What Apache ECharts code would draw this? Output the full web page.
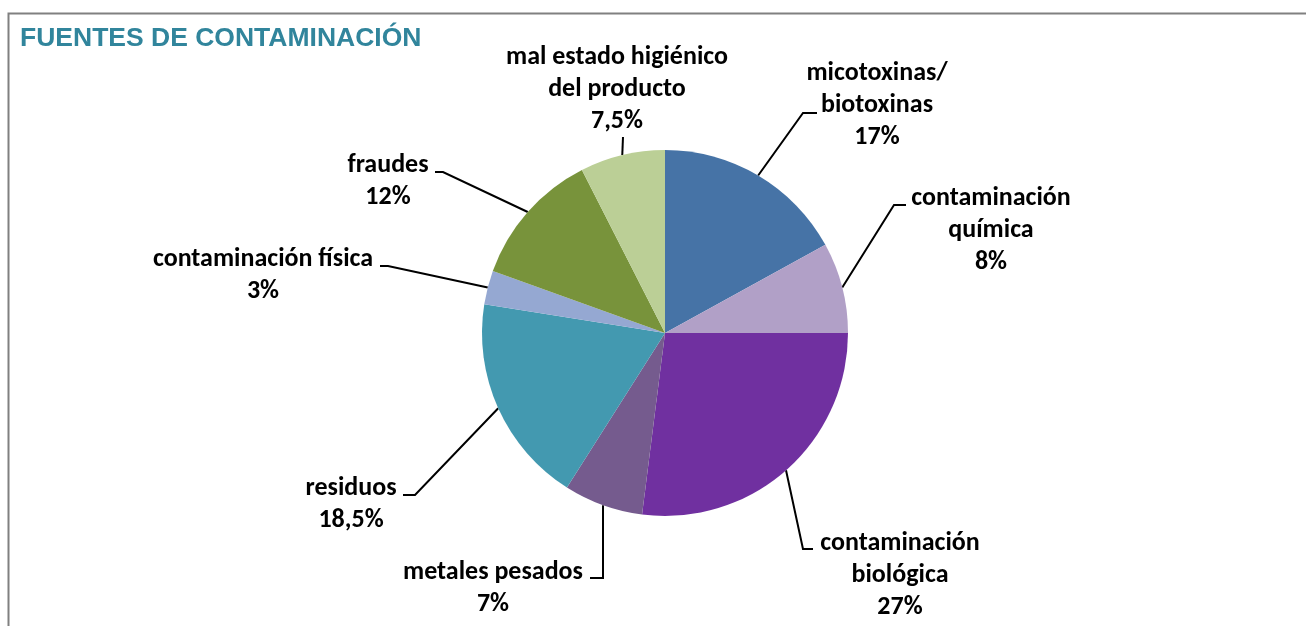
<!DOCTYPE html>
<html lang="es">
<head>
<meta charset="UTF-8">
<title>Fuentes de contaminación</title>
<script src="https://cdn.jsdelivr.net/npm/echarts@6/dist/echarts.min.js"></script>
<style>
  html, body { margin: 0; padding: 0; background: #fff; }
  #chart { width: 1306px; height: 626px; }
</style>
</head>
<body>
<div id="chart"></div>
<script>
  // data, clockwise from 12 o'clock
  var categories = [
    'micotoxinas/\nbiotoxinas',
    'contaminación\nquímica',
    'contaminación\nbiológica',
    'metales pesados',
    'residuos',
    'contaminación física',
    'fraudes',
    'mal estado higiénico\ndel producto'
  ]
  var values = [17, 8, 27, 7, 18.5, 3, 12, 7.5]
  var colors = ['#4673A6', '#B1A0C7', '#7030A0', '#755B8E', '#4399B0', '#95A8D2', '#78933B', '#BBCF96']

  // where each label sits (text block centre) and its leader bend / end points
  var labelPos = [
    { c: [877, 105], pts: [[803, 113], [817, 113]] },
    { c: [991, 230], pts: [[894, 205], [906, 205]] },
    { c: [900, 575], pts: [[803, 549], [813, 549]] },
    { c: [493, 588], pts: [[603, 578], [590, 578]] },
    { c: [351, 504], pts: [[415, 495], [403, 495]] },
    { c: [263, 275], pts: [[388, 266], [380, 266]] },
    { c: [388, 181], pts: [[443, 172], [435, 172]] },
    { c: [617, 89],  pts: [[623, 137], [623, 137]] }
  ]

  var cx = 665, cy = 333, R = 183
  var total = values.reduce(function (a, b) { return a + b }, 0)

  function edgePoint(i) {
    var before = 0
    for (var k = 0; k < i; k++) before += values[k]
    var mid = (before + values[i] / 2) / total * Math.PI * 2
    return [cx + R * Math.sin(mid), cy - R * Math.cos(mid)]
  }

  var chart = echarts.init(document.getElementById('chart'), null, { renderer: 'canvas' })

  var option = {
    backgroundColor: '#fff',
    animation: false,
    title: {
      text: 'FUENTES DE CONTAMINACIÓN',
      left: 20,
      top: 25,
      padding: 0,
      textStyle: {
        fontFamily: 'Liberation Sans, Arial, sans-serif',
        fontWeight: 'bold',
        fontSize: 26.5,
        color: '#31859C'
      }
    },
    graphic: [{
      type: 'rect',
      shape: { x: 8.5, y: 13.5, width: 1320, height: 700 },
      style: { fill: 'none', stroke: '#808080', lineWidth: 2 },
      silent: true
    }],
    series: [{
      type: 'pie',
      center: [cx, cy],
      radius: R,
      startAngle: 90,
      clockwise: true,
      avoidLabelOverlap: false,
      data: categories.map(function (n, i) {
        return { name: n, value: values[i], itemStyle: { color: colors[i] } }
      }),
      itemStyle: { borderWidth: 0 },
      label: {
        show: true,
        position: 'outside',
        formatter: function (p) {
          return p.name + '\n' + String(p.value).replace('.', ',') + '%'
        },
        fontFamily: 'Carlito, Lato, sans-serif',
        fontWeight: 'bold',
        fontSize: 26,
        lineHeight: 32,
        color: '#000',
        align: 'center'
      },
      labelLine: {
        show: true,
        length: 10,
        length2: 10,
        lineStyle: { color: '#000', width: 2 }
      },
      labelLayout: function (params) {
        var i = params.dataIndex
        var lp = labelPos[i]
        return {
          x: lp.c[0],
          y: lp.c[1],
          align: 'center',
          verticalAlign: 'middle',
          labelLinePoints: [edgePoint(i), lp.pts[0], lp.pts[1]]
        }
      }
    }]
  }

  chart.setOption(option)
  window.addEventListener('resize', chart.resize)
</script>
</body>
</html>
